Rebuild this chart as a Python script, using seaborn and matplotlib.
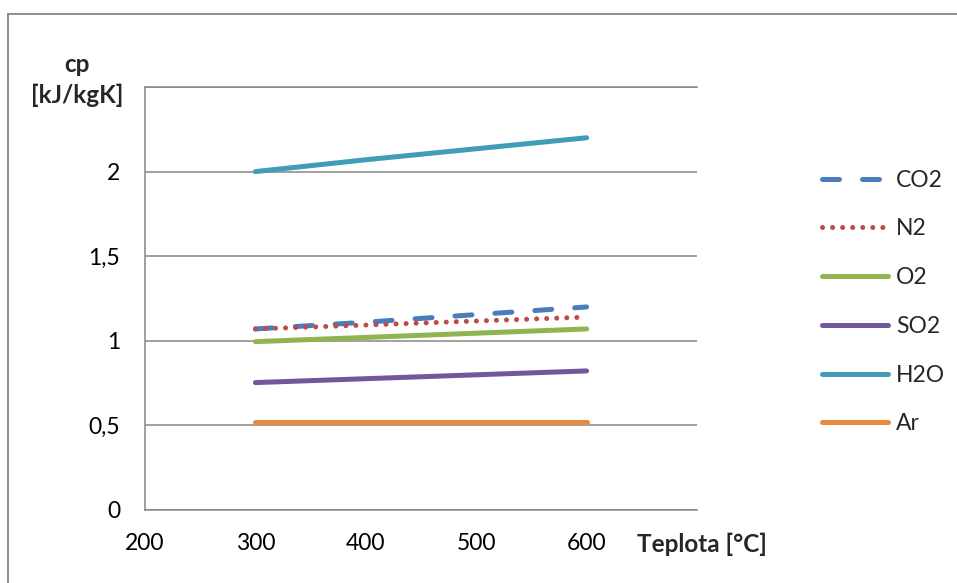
import pandas as pd
import seaborn as sns
import numpy as np
import matplotlib.pyplot as plt
from matplotlib.lines import Line2D

# temperatures [°C] and cp [kJ/kgK]
teplota = [300, 400, 500, 600]
cp_co2 = [1.07, 1.11, 1.155, 1.20]
cp_n2 = [1.07, 1.093, 1.117, 1.14]
cp_o2 = [0.995, 1.02, 1.045, 1.07]
cp_so2 = [0.753, 0.776, 0.799, 0.822]
cp_h2o = [2.00, 2.07, 2.135, 2.20]
cp_ar = [0.52, 0.52, 0.52, 0.52]

gases = ["CO2", "N2", "O2", "SO2", "H2O", "Ar"]
series = [cp_co2, cp_n2, cp_o2, cp_so2, cp_h2o, cp_ar]

x_ticks = [200, 300, 400, 500, 600, 700]
y_ticks = [0, 0.5, 1, 1.5, 2, 2.5]

colors = {
    "CO2": "#4A7EBB",
    "N2": "#BE4B48",
    "O2": "#8FB551",
    "SO2": "#74569B",
    "H2O": "#419CB7",
    "Ar": "#E8893E",
}
dashes = {
    "CO2": (3.4, 4.6),
    "N2": (0.01, 2.0),
    "O2": "",
    "SO2": "",
    "H2O": "",
    "Ar": "",
}

# build long-form table for seaborn
df = pd.DataFrame(
    {
        "teplota": teplota * len(gases),
        "cp": np.concatenate(series),
        "plyn": np.repeat(gases, len(teplota)),
    }
)

sns.set_style("white")
plt.rcParams["font.family"] = ["Lato", "DejaVu Sans"]
plt.rcParams["lines.dash_capstyle"] = "round"
plt.rcParams["lines.solid_capstyle"] = "round"

grey = "#868686"
fs = 16.5
fs_title = 17.5

fig = plt.figure(figsize=(9.57, 5.83), dpi=100)
# plot area: x 145..697 px, y 87..510 px
ax = fig.add_axes([145 / 957, 73 / 583, 552 / 957, 423 / 583])

sns.lineplot(
    data=df,
    x="teplota",
    y="cp",
    hue="plyn",
    style="plyn",
    palette=colors,
    dashes=dashes,
    hue_order=gases,
    style_order=gases,
    linewidth=3.6,
    ax=ax,
)

ax.set_xlim(x_ticks[0], x_ticks[-1])
ax.set_ylim(y_ticks[0], y_ticks[-1])
ax.set_xticks(x_ticks)
ax.set_xticklabels([str(t) for t in x_ticks[:-1]] + [""])
ax.set_yticks(y_ticks)
ax.set_yticklabels([f"{t:g}".replace(".", ",") for t in y_ticks[:-1]] + [""])
ax.set_xlabel("")
ax.set_ylabel("")

# axes styling like the spreadsheet chart
# (top spine acts as the 2,5 gridline)
ax.spines["right"].set_visible(False)
for side in ["top", "left", "bottom"]:
    ax.spines[side].set_color(grey)
    ax.spines[side].set_linewidth(1.1)
ax.yaxis.grid(True, color=grey, linewidth=1.1)
ax.set_axisbelow(True)
ax.tick_params(axis="both", direction="out", length=5.8, width=1.1, color=grey,
               labelsize=fs, labelcolor="black")
ax.tick_params(axis="x", pad=11)
ax.tick_params(axis="y", pad=12)

# legend on the right
handles, labels = ax.get_legend_handles_labels()
for h in handles:
    h.set_linewidth(3.6)
ax.legend(
    handles,
    labels,
    loc="center left",
    bbox_to_anchor=(821.5 / 957, 1 - 302 / 583),
    bbox_transform=fig.transFigure,
    frameon=False,
    fontsize=fs,
    handlelength=2.9,
    handletextpad=0.36,
    labelspacing=1.21,
    borderpad=0,
    borderaxespad=0,
)

# axis titles
fig.text(77 / 957, 1 - 64 / 583, "cp", ha="center", va="center",
         fontsize=fs_title, fontweight="bold")
fig.text(77 / 957, 1 - 95 / 583, "[kJ/kgK]", ha="center", va="center",
         fontsize=fs_title, fontweight="bold")
fig.text(637 / 957, 1 - 544 / 583, "Teplota [°C]", ha="left", va="center",
         fontsize=fs_title, fontweight="bold")

# outer chart frame (top and left edges visible)
fig.add_artist(Line2D([8 / 957, 8 / 957], [0, 1 - 14 / 583], color=grey,
                      linewidth=1.3, transform=fig.transFigure))
fig.add_artist(Line2D([8 / 957, 1], [1 - 14 / 583, 1 - 14 / 583], color=grey,
                      linewidth=1.3, transform=fig.transFigure))

fig.savefig("out.png", dpi=100)
